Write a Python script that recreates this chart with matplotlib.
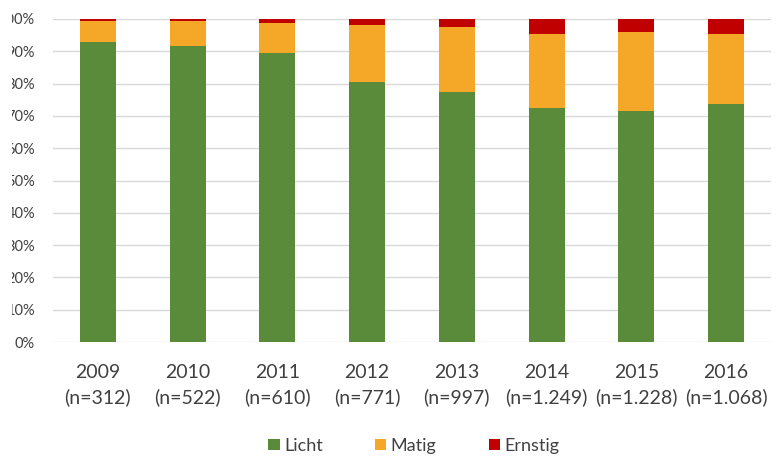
import matplotlib
matplotlib.use("Agg")
import matplotlib.pyplot as plt
from matplotlib.patches import Rectangle
import numpy as np

years = ["2009", "2010", "2011", "2012", "2013", "2014", "2015", "2016"]
counts = ["312", "522", "610", "771", "997", "1.249", "1.228", "1.068"]
licht = [93.0, 91.7, 89.4, 80.5, 77.5, 72.3, 71.6, 73.8]
ernstig = [0.6, 0.5, 1.3, 2.0, 2.5, 4.7, 4.1, 4.5]
matig = [100 - l - e for l, e in zip(licht, ernstig)]

colors = {"Licht": "#5A8B3A", "Matig": "#F5A728", "Ernstig": "#C00000"}
text_color = "#404040"

plt.rcParams['font.family'] = ['Lato', 'DejaVu Sans']

W, H = 781, 457
fig = plt.figure(figsize=(W / 100, H / 100), dpi=100)
ax = fig.add_axes([53 / W, (H - 342) / H, (771 - 53) / W, (342 - 19) / H])

x = np.arange(len(years))
bw = 0.4
ax.bar(x, licht, bw, color=colors["Licht"], label="Licht", zorder=3)
ax.bar(x, matig, bw, bottom=licht, color=colors["Matig"], label="Matig", zorder=3)
bottom2 = [l + m for l, m in zip(licht, matig)]
ax.bar(x, ernstig, bw, bottom=bottom2, color=colors["Ernstig"], label="Ernstig", zorder=3)

ax.set_xlim(-0.5, len(years) - 0.5)
ax.set_ylim(0, 100)
ax.set_yticks(np.arange(0, 101, 10))
ax.set_yticklabels([f"{v}%" for v in range(0, 101, 10)], fontsize=10.5, color=text_color)
ax.set_xticks(x)
ax.set_xticklabels([f"{y}\n(n={c})" for y, c in zip(years, counts)], fontsize=14,
                   color=text_color, linespacing=1.5)
ax.tick_params(axis='y', length=0, pad=13)
ax.tick_params(axis='x', length=0, pad=16)
ax.grid(axis='y', color="#D9D9D9", linewidth=1, zorder=0)
for s in ax.spines.values():
    s.set_visible(False)

handles, labels = ax.get_legend_handles_labels()
fig.legend(handles, labels, loc="center", bbox_to_anchor=(414 / W, (H - 446) / H), ncol=3,
           frameon=False, fontsize=13, handlelength=0.62, handleheight=0.62,
           handletextpad=0.25, columnspacing=2.9, labelcolor=text_color,
           borderpad=0, borderaxespad=0)

# the left edge of the source image is cut off
fig.add_artist(Rectangle((0, 0), 12 / W, 1, transform=fig.transFigure,
                         facecolor="white", edgecolor="none", zorder=10))

fig.savefig("out.png", dpi=100)
